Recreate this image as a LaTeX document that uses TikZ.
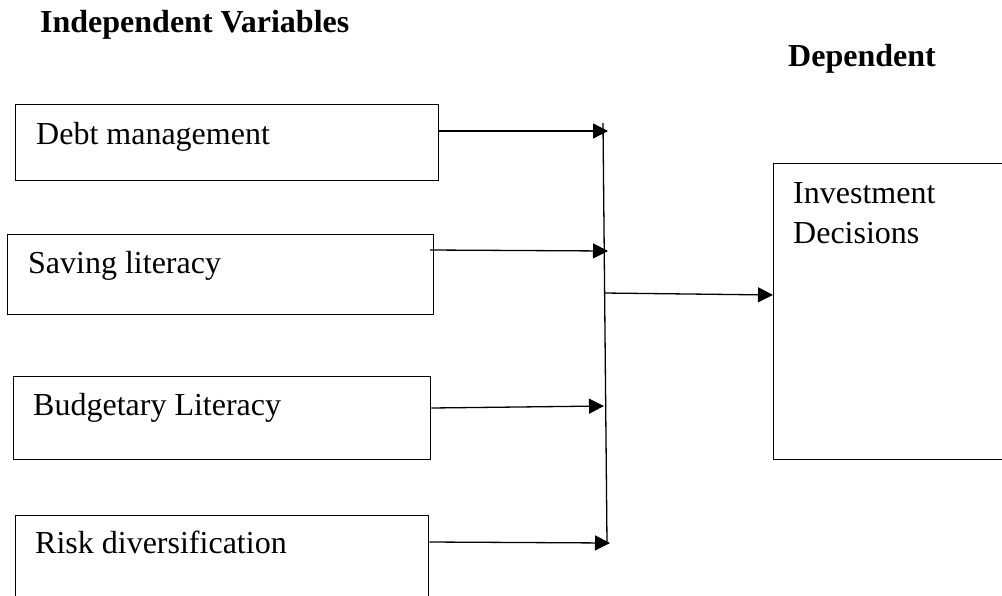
\documentclass[tikz,border=0pt]{standalone}
\usepackage{fontspec}
\setmainfont{Liberation Serif}
\usetikzlibrary{arrows.meta}
\begin{document}
\begin{tikzpicture}[x=1pt,y=-1pt,
  box/.style={draw=black,line width=1.3pt,rectangle,inner sep=0pt,anchor=north west},
  lbl/.style={anchor=base west,inner sep=0pt,font=\fontsize{32}{40}\selectfont},
  head/.style={anchor=base west,inner sep=0pt,font=\fontsize{32}{40}\selectfont\bfseries},
  conn/.style={line width=1.3pt,-{Triangle[length=15pt,width=15pt]}},
  ln/.style={line width=1.3pt}]
\useasboundingbox (0,0) rectangle (1002,595);
\clip (0,0) rectangle (1002,595);
\fill[white] (0,0) rectangle (1002,595);

% headings
\node[head] (hind) at (40,32) {Independent Variables};
\node[head] (hdep) at (788,66) {Dependent};

% boxes
\node[box,minimum width=423pt,minimum height=76pt] (debt) at (15,104) {};
\node[box,minimum width=426pt,minimum height=80pt] (save) at (7,234) {};
\node[box,minimum width=417pt,minimum height=83pt] (budg) at (13,376) {};
\node[box,minimum width=413pt,minimum height=90pt] (risk) at (15,515) {};
\node[box,minimum width=240pt,minimum height=296pt] (inv) at (773,163) {};

% labels
\node[lbl] (tdebt) at (36,144) {Debt management};
\node[lbl] (tsave) at (28,273) {Saving literacy};
\node[lbl] (tbudg) at (33,415) {Budgetary Literacy};
\node[lbl] (trisk) at (35,553) {Risk diversification};
\node[lbl] (tinv1) at (793,203) {Investment};
\node[lbl] (tinv2) at (793,243) {Decisions};

% junction line
\coordinate (jtop) at (603,123);
\coordinate (jbot) at (607,543);
\coordinate (t1) at (608,131);
\coordinate (t2) at (608,251);
\coordinate (t3) at (604,406);
\coordinate (t4) at (610,543);
\coordinate (jout) at (604,293);
\coordinate (s2) at (430,250);

\draw[ln] (jtop) -- (jbot);
\draw[conn] (debt.east |- t1) -- (t1);
\draw[conn] (s2) -- (t2);
\draw[conn] (budg.east |- 0,408) -- (t3);
\draw[conn] (risk.east |- 0,542) -- (t4);
\draw[conn] (jout) -- (inv.west |- 0,295);
\end{tikzpicture}
\end{document}
